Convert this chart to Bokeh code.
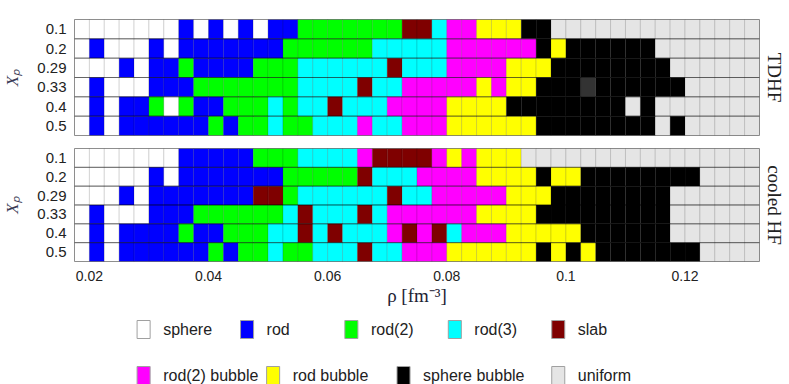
from bokeh.plotting import figure
from bokeh.models import Range1d, FixedTicker, LinearAxis, ColumnDataSource
from bokeh.layouts import column
from bokeh.embed import file_html
from bokeh.resources import INLINE
from bokeh.core.properties import value

# ---------------- data ----------------
xp_labels = ["0.1", "0.2", "0.29", "0.33", "0.4", "0.5"]
rho_start = 0.0175
rho_step = 0.0025
n_rho = 46
rho_centers = [round(rho_start + rho_step * (i + 0.5), 6) for i in range(n_rho)]
x_ticks = [0.02, 0.04, 0.06, 0.08, 0.1, 0.12]
x_tick_labels = ["0.02", "0.04", "0.06", "0.08", "0.1", "0.12"]

phase_names = ["sphere", "rod", "rod(2)", "rod(3)", "slab",
               "rod(2) bubble", "rod bubble", "sphere bubble", "uniform"]
phase_codes = ["w", "b", "g", "c", "m", "p", "y", "k", "u"]
phase_colors = ["#FFFFFF", "#0000FF", "#00FF00", "#00FFFF", "#7F0000",
                "#FF00FF", "#FFFF00", "#000000", "#E5E5E5"]
extra_codes = {"d": "#333333"}  # unlabeled dark cell

# phase per density cell, one string per Xp row (0.1 .. 0.5)
tdhf_rows = [
    "wwwwwww" + "b" + "w" + "b" + "w" + "b" + "w" + "bb" + "ggggggg" + "mm" + "c" + "pp" + "yyy" + "kk" + "uuuuuuuuuuuuuu",
    "w" + "b" + "www" + "b" + "w" + "bbbbbbb" + "gggggg" + "ccccc" + "pppppp" + "k" + "y" + "kkkkkk" + "uuuuuuu",
    "www" + "b" + "w" + "bb" + "g" + "bbbb" + "ggg" + "cccccc" + "m" + "ccc" + "pppp" + "yyy" + "kkkkkkkk" + "uuuuuu",
    "w" + "b" + "www" + "bbb" + "ggggggg" + "cccc" + "m" + "cc" + "ppppp" + "y" + "p" + "yy" + "kkk" + "d" + "kkkkkk" + "uuuuu",
    "w" + "b" + "w" + "bb" + "g" + "w" + "g" + "bb" + "ggg" + "c" + "g" + "cc" + "m" + "ccc" + "pppp" + "yyyy" + "kkkkkkkk" + "u" + "k" + "uuuuuuu",
    "w" + "b" + "w" + "bbbbbb" + "g" + "b" + "gg" + "c" + "gg" + "ccc" + "p" + "cc" + "ppp" + "yyyyyy" + "kkkkkkkk" + "u" + "k" + "uuuuu",
]
hf_rows = [
    "wwwwwww" + "bbbbb" + "ggg" + "cccc" + "p" + "mmmm" + "p" + "y" + "p" + "yyy" + "uuuuuuuuuuuuuuuu",
    "wwwww" + "b" + "w" + "bbbbbbb" + "ggggg" + "m" + "ccc" + "pppp" + "yyyy" + "k" + "yy" + "kkkkkkkk" + "uuuu",
    "www" + "b" + "w" + "bbbbbbb" + "mm" + "g" + "cccccc" + "m" + "cc" + "ppppp" + "yyy" + "kkkkkkkk" + "uuuuuu",
    "w" + "b" + "www" + "bbb" + "gggggg" + "c" + "m" + "ccc" + "m" + "c" + "pppppp" + "yyyy" + "kkkkkkkkk" + "uuuuuu",
    "w" + "b" + "w" + "bbbb" + "g" + "bb" + "ggg" + "cc" + "m" + "c" + "m" + "ccc" + "p" + "m" + "p" + "m" + "c" + "ppp" + "yyyyy" + "kkkkkk" + "uuuuuu",
    "w" + "b" + "w" + "bbbbbb" + "g" + "b" + "gg" + "c" + "gg" + "ccc" + "m" + "cc" + "ppp" + "yyyyyy" + "k" + "y" + "k" + "y" + "kkkkkkk" + "uuuu",
]
for r in tdhf_rows + hf_rows:
    assert len(r) == n_rho, len(r)

color_of = dict(zip(phase_codes, phase_colors))
color_of.update(extra_codes)

# ---------------- layout ----------------
W = 788
SANS = "Liberation Sans"
SERIF = "Liberation Serif"
x_range = Range1d(rho_start, rho_start + rho_step * n_rho)
n_rows = len(xp_labels)
row_pos = [n_rows - 0.5 - k for k in range(n_rows)]  # top row first


def make_panel(rows, panel_label, height, top, bottom, show_x):
    p = figure(width=W, height=height, x_range=x_range,
               y_range=Range1d(0, n_rows),
               output_backend="svg", toolbar_location=None,
               x_axis_location="below" if show_x else None,
               min_border_left=72, min_border_right=W - 759,
               min_border_top=top, min_border_bottom=bottom)
    xs, ys, cs = [], [], []
    for k, row in enumerate(rows):
        for i, ch in enumerate(row):
            xs.append(rho_centers[i])
            ys.append(row_pos[k])
            cs.append(color_of[ch])
    src = ColumnDataSource(dict(x=xs, y=ys, color=cs))
    p.rect(x="x", y="y", width=rho_step, height=1, source=src,
           fill_color="color", line_color="black", line_alpha=0.13, line_width=1)
    p.hbar(y=row_pos, left=x_range.start, right=x_range.end, height=1,
           fill_color=None, line_color="black", line_alpha=0.3, line_width=1)
    p.xgrid.visible = False
    p.ygrid.visible = False
    p.outline_line_color = "#9a9a9a"
    p.outline_line_width = 1

    ya = p.yaxis[0]
    ya.ticker = FixedTicker(ticks=row_pos)
    ya.major_label_overrides = dict(zip(row_pos, xp_labels))
    ya.axis_line_color = None
    ya.major_tick_line_color = None
    ya.minor_tick_line_color = None
    ya.major_label_standoff = 2
    ya.major_label_text_font = SANS
    ya.major_label_text_font_size = "15px"
    ya.major_label_text_color = "#222222"
    ya.axis_label = "X\u209a"
    ya.axis_label_text_font = SERIF
    ya.axis_label_text_font_style = "italic"
    ya.axis_label_text_font_size = "17px"
    ya.axis_label_text_color = "#3a3a55"
    ya.axis_label_standoff = 12

    ra = LinearAxis(ticker=FixedTicker(ticks=[]), axis_label=panel_label)
    ra.axis_line_color = None
    ra.major_tick_line_color = None
    ra.minor_tick_line_color = None
    ra.major_label_standoff = 0
    ra.axis_label_standoff = 4
    ra.axis_label_text_font = SERIF
    ra.axis_label_text_font_style = "normal"
    ra.axis_label_text_font_size = "19px"
    ra.axis_label_text_color = "#222222"
    p.add_layout(ra, "right")

    if show_x:
        xa = p.xaxis[0]
        xa.ticker = FixedTicker(ticks=x_ticks)
        xa.major_label_overrides = dict(zip(x_ticks, x_tick_labels))
        xa.axis_line_color = None
        xa.major_tick_line_color = None
        xa.minor_tick_line_color = None
        xa.major_label_standoff = 3
        xa.major_label_text_font = SANS
        xa.major_label_text_font_size = "14px"
        xa.major_label_text_color = "#222222"
        xa.axis_label = "\u03c1 [fm\u207b\u00b3]"
        xa.axis_label_text_font = SERIF
        xa.axis_label_text_font_style = "normal"
        xa.axis_label_text_font_size = "19px"
        xa.axis_label_text_color = "#222233"
        xa.axis_label_standoff = 1
    return p


pA = make_panel(tdhf_rows, "TDHF", 142, 19, 7, False)
pB = make_panel(hf_rows, "cooled HF", 166, 6, 43, True)

# ---------------- legend ----------------
LH = 76
leg = figure(width=W, height=LH, x_range=Range1d(0, W), y_range=Range1d(LH, 0),
             output_backend="svg", toolbar_location=None,
             x_axis_location=None, y_axis_location=None,
             min_border_left=0, min_border_right=0, min_border_top=0, min_border_bottom=0)
leg.grid.visible = False
leg.outline_line_color = None

legend_layout = [
    (0, 72, 21), (1, 191, 21), (2, 311, 21), (3, 430, 21), (4, 549, 21),
    (5, 72, 67), (6, 221, 67), (7, 371, 67), (8, 549, 67),
]
lx = [pos + 7.5 for _, pos, _ in legend_layout]
ly = [yy for _, _, yy in legend_layout]
lc = [phase_colors[k] for k, _, _ in legend_layout]
lt = [phase_names[k] for k, _, _ in legend_layout]
tx = [pos + 30 for _, pos, _ in legend_layout]
leg.rect(x=lx, y=ly, width=15, height=18, fill_color=lc, line_color="#a0a0a0", line_width=1)
leg.text(x=tx, y=ly, text=lt, text_baseline="middle", text_align="left",
         text_font=value(SANS), text_font_size="16px", text_color="#222222")

layout = column(pA, pB, leg)
open("out.html", "w").write(file_html(layout, INLINE))
